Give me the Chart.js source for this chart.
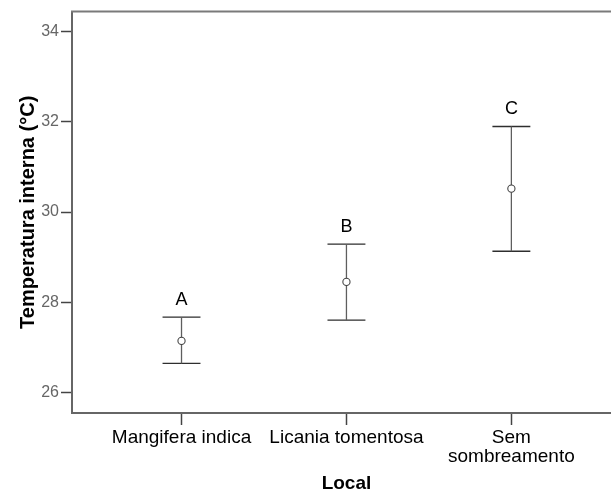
<!DOCTYPE html>
<html>
<head>
<meta charset="utf-8">
<script src="https://cdn.jsdelivr.net/npm/chart.js@4/dist/chart.umd.min.js"></script>
<style>
  html, body { margin: 0; padding: 0; background: #fff; overflow: hidden; }
  #wrap { width: 611px; height: 492px; overflow: hidden; position: relative; }
  canvas { display: block; }
</style>
</head>
<body>
<div id="wrap"><canvas id="c" width="626" height="492"></canvas></div>
<script>
// Mean internal temperature per site with 95% confidence interval
const categories = ['Mangifera indica', 'Licania tomentosa', ['Sem', 'sombreamento']];
const positions = [1, 2, 3];
const meanTemp = [27.14, 28.45, 30.52];
const lowerCI = [26.64, 27.60, 29.13];
const upperCI = [27.67, 29.29, 31.90];
const groupLetters = ['A', 'B', 'C'];
const yTicks = [26, 28, 30, 32, 34];

const FONT = '"Liberation Sans", Arial, Helvetica, sans-serif';
const CAP_HALF = 0.115; // half width of the whisker caps, in category units

Chart.defaults.font.family = FONT;

// vertical whisker segments, separated by gaps
const stems = [];
positions.forEach((p, i) => {
  stems.push({ x: p, y: lowerCI[i] }, { x: p, y: upperCI[i] }, { x: p, y: null });
});

// horizontal caps at both ends of each interval
const caps = [];
positions.forEach((p, i) => {
  caps.push({ x: p - CAP_HALF, y: upperCI[i] }, { x: p + CAP_HALF, y: upperCI[i] }, { x: p, y: null });
  caps.push({ x: p - CAP_HALF, y: lowerCI[i] }, { x: p + CAP_HALF, y: lowerCI[i] }, { x: p, y: null });
});

const decorations = {
  id: 'decorations',
  afterDatasetsDraw(chart) {
    const { ctx, chartArea, scales: { x, y } } = chart;
    ctx.save();
    // upper edge of the plot frame
    ctx.strokeStyle = '#7a7a7a';
    ctx.lineWidth = 2;
    ctx.beginPath();
    ctx.moveTo(chartArea.left - 1, chartArea.top);
    ctx.lineTo(chartArea.right, chartArea.top);
    ctx.stroke();
    // group letters above each interval
    ctx.font = '18px ' + FONT;
    ctx.fillStyle = '#000';
    ctx.textAlign = 'center';
    ctx.textBaseline = 'alphabetic';
    groupLetters.forEach((t, i) => {
      ctx.fillText(t, x.getPixelForValue(positions[i]), y.getPixelForValue(upperCI[i]) - 12);
    });
    ctx.restore();
  }
};

new Chart(document.getElementById('c'), {
  type: 'scatter',
  data: {
    datasets: [
      {
        data: positions.map((p, i) => ({ x: p, y: meanTemp[i] })),
        pointStyle: 'circle',
        pointRadius: 3.6,
        pointBackgroundColor: '#fff',
        pointBorderColor: '#444',
        pointBorderWidth: 1.1,
        showLine: false
      },
      {
        data: stems,
        showLine: true,
        spanGaps: false,
        pointRadius: 0,
        borderColor: '#5e5e5e',
        borderWidth: 1.3
      },
      {
        data: caps,
        showLine: true,
        spanGaps: false,
        pointRadius: 0,
        borderColor: '#2e2e2e',
        borderWidth: 1.3
      }
    ]
  },
  options: {
    responsive: false,
    devicePixelRatio: 1,
    animation: false,
    layout: { padding: { top: 8, right: 2, left: 0, bottom: 0 } },
    plugins: { legend: { display: false }, tooltip: { enabled: false } },
    scales: {
      x: {
        type: 'linear',
        position: 'bottom',
        min: 0.336,
        max: 3.664,
        afterBuildTicks: s => { s.ticks = positions.map(v => ({ value: v })); },
        afterFit: s => { s.height = 79; },
        ticks: {
          callback: (v, i) => categories[i],
          font: { size: 19, lineHeight: 1.0 },
          color: '#000',
          padding: 3,
          maxRotation: 0,
          autoSkip: false
        },
        grid: { display: true, drawOnChartArea: false, drawTicks: true, tickLength: 12, tickColor: '#444', tickWidth: 1.5 },
        border: { display: true, color: '#666', width: 2 },
        title: {
          display: true,
          text: 'Local',
          color: '#000',
          font: { size: 19, weight: 'bold', lineHeight: 0.85 },
          padding: 0
        }
      },
      y: {
        type: 'linear',
        min: 25.54,
        max: 34.45,
        afterBuildTicks: s => { s.ticks = yTicks.map(v => ({ value: v })); },
        afterFit: s => { s.width = 72; },
        ticks: {
          font: { size: 16 },
          color: '#666',
          padding: 2
        },
        grid: { display: true, drawOnChartArea: false, drawTicks: true, tickLength: 11, tickColor: '#444', tickWidth: 1.5 },
        border: { display: true, color: '#666', width: 2 },
        title: {
          display: true,
          text: 'Temperatura interna (°C)',
          color: '#000',
          font: { size: 20, weight: 'bold', lineHeight: 1.2 },
          padding: { top: 16, bottom: 0 }
        }
      }
    }
  },
  plugins: [decorations]
});
</script>
</body>
</html>
